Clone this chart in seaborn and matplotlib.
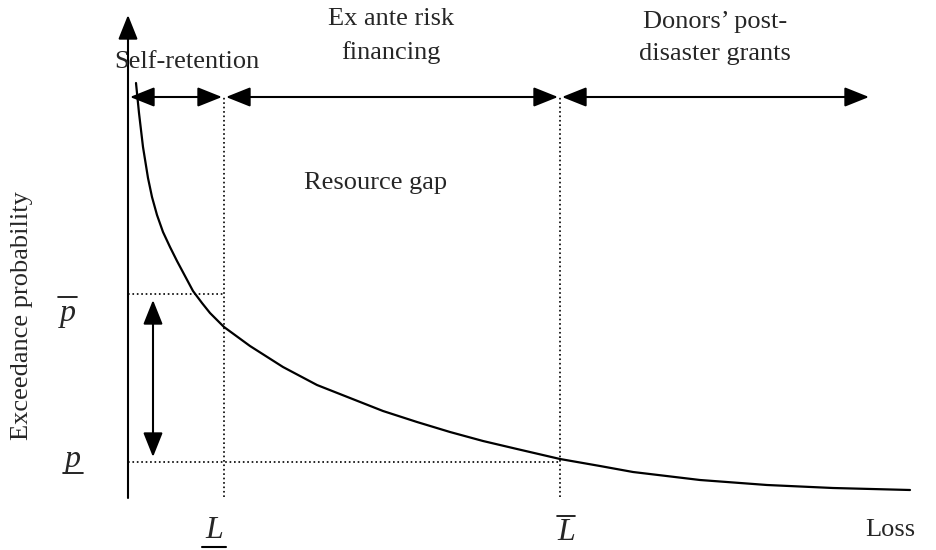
import numpy as np
import pandas as pd
import matplotlib
matplotlib.use("Agg")
import matplotlib.pyplot as plt
import seaborn as sns

# --- data (units: px from the origin) ---
loss = [8, 11, 15, 20, 24, 29, 35, 42, 49, 57, 65, 74, 82, 96, 122, 155, 189,
        222, 255, 289, 322, 355, 389, 432, 472, 505, 572, 639, 705, 782]
prob = [414, 384, 350, 319, 300, 282, 265, 250, 236, 221, 206, 194, 184, 170,
        151, 130, 112, 99, 86, 75, 65, 56, 48, 38, 31, 25, 17, 12, 9, 7]

L_low, L_high = 96, 432
p_high, p_low = 203, 35
band_edges = [0, 96, 432, 743]
band_labels = ["Self-retention", "Ex ante risk\nfinancing",
               "Donors\u2019 post-\ndisaster grants"]
band_label_pos = [(59, 435), (263, 461), (587, 459)]
# ---------------------------------------------------------------

sns.set_style("white")
plt.rcParams['font.family'] = ['Liberation Serif', 'DejaVu Serif']

fig = plt.figure(figsize=(9.36, 5.5), dpi=100)
ax = fig.add_axes([0, 0, 1, 1])
ax.set_xlim(-128, 808)
ax.set_ylim(-53, 497)
ax.axis('off')

df = pd.DataFrame({'loss': loss, 'prob': prob})
sns.lineplot(data=df, x='loss', y='prob', color='black', lw=1.6, ax=ax,
             sort=False)

arr = dict(color='black', lw=1.5, shrinkA=0, shrinkB=0, mutation_scale=20)
head = ',head_length=0.75,head_width=0.3'

# axes with arrow heads
ax.annotate('', xy=(0, 482), xytext=(0, -1),
            arrowprops=dict(arrowstyle='-|>' + head, **arr))
ax.annotate('', xy=(814, 0), xytext=(-1, 0),
            arrowprops=dict(arrowstyle='-|>' + head, **arr))

# band arrows along the top
arrow_y = 400
for a, b in zip(band_edges[:-1], band_edges[1:]):
    ax.annotate('', xy=(b - 2, arrow_y), xytext=(a + 2, arrow_y),
                arrowprops=dict(arrowstyle='<|-|>' + head, **arr))

for lab, (x, y) in zip(band_labels, band_label_pos):
    ax.text(x, y, lab, ha='center', va='center', fontsize=19, linespacing=1.6)

# dotted guides
dot = dict(ls=':', color='black', lw=1.2)
for x in [L_low, L_high]:
    ax.plot([x, x], [0, arrow_y], **dot)
ax.plot([0, L_low], [p_high, p_high], **dot)
ax.plot([0, L_high], [p_low, p_low], **dot)

# vertical double arrow between p levels
ax.annotate('', xy=(25, p_low + 5), xytext=(25, p_high - 6),
            arrowprops=dict(arrowstyle='<|-|>' + head, **arr))

ax.text(248, 314, "Resource gap", ha='center', va='center', fontsize=19)
ax.text(-106, 181, "Exceedance probability", ha='center', va='center',
        rotation=90, fontsize=19)
ax.text(762, -33, "Loss", ha='center', va='center', fontsize=19)

# italic symbols with bars
sym = dict(ha='center', va='center', fontstyle='italic', fontsize=23)
ax.text(-60, 184, "p", **sym)
ax.plot([-70, -51], [200, 200], color='black', lw=1.2)
ax.text(-55, 37, "p", **sym)
ax.plot([-65, -45], [24, 24], color='black', lw=1.2)
ax.text(L_low - 10, -34, "L", **sym)
ax.plot([L_low - 22, L_low + 2], [-50, -50], color='black', lw=1.5)
ax.text(L_high + 6, -36, "L", **sym)
ax.plot([L_high - 3, L_high + 15], [-19, -19], color='black', lw=1.2)

fig.savefig('out.png', dpi=100)
